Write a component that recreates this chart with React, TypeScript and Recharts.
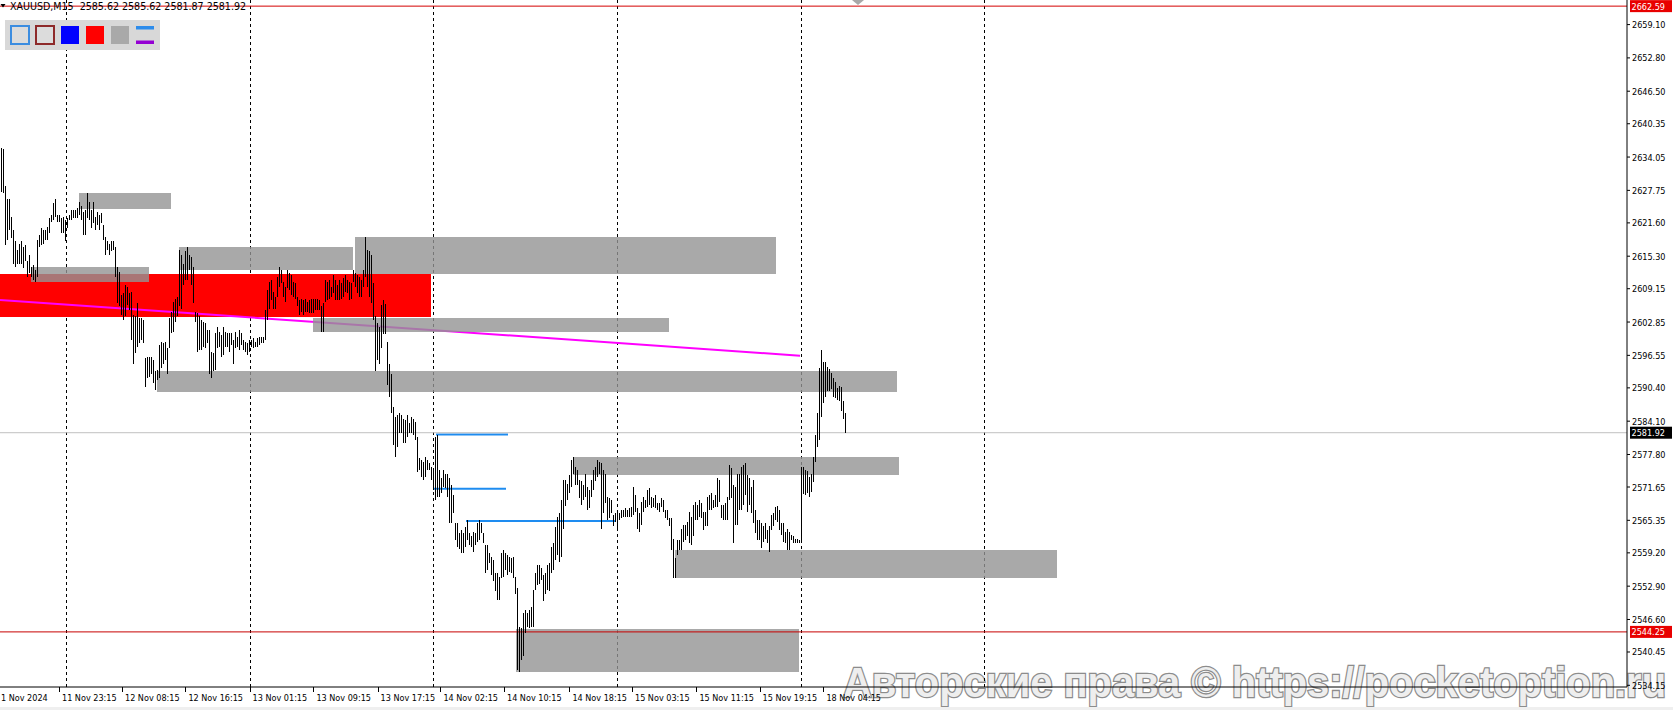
import React from 'react';
import { ComposedChart, Bar, XAxis, YAxis, ReferenceArea, ReferenceLine } from 'recharts';

const FONT = '"DejaVu Sans Condensed", "DejaVu Sans", sans-serif';

// ---- chart data (XAUUSD M15), bar index i = M15 bar number from the left edge ----
const FIRST_BAR = 1;

const barHigh: number[] = [
  2635.7, 2635.6, 2628.5, 2626.2, 2626.2, 2622.8, 2620.3, 2618.1, 2616.5, 2617.7,
  2618.1, 2617.1, 2617.4, 2614.3, 2615.5, 2613.3, 2613.6, 2612.7, 2618.4, 2619.3,
  2620.6, 2620.3, 2620.3, 2620.9, 2622.5, 2623.1, 2625.3, 2626.2, 2623.1, 2623.1,
  2622.5, 2622.8, 2622.2, 2622.5, 2623.1, 2624.0, 2624.0, 2624.0, 2624.4, 2625.6,
  2624.7, 2623.7, 2624.0, 2627.2, 2625.6, 2624.0, 2625.6, 2622.8, 2623.7, 2623.1,
  2623.4, 2621.2, 2619.0, 2618.1, 2617.7, 2618.1, 2618.1, 2617.1, 2613.3, 2612.4,
  2608.0, 2608.3, 2609.9, 2609.5, 2608.3, 2608.6, 2604.2, 2603.9, 2606.4, 2603.6,
  2603.6, 2603.2, 2596.0, 2596.3, 2596.3, 2596.3, 2595.7, 2593.5, 2593.8, 2598.5,
  2599.1, 2598.8, 2599.1, 2597.9, 2603.6, 2604.8, 2606.7, 2607.3, 2607.6, 2616.5,
  2615.5, 2613.9, 2616.2, 2617.1, 2615.5, 2615.2, 2613.3, 2604.8, 2604.5, 2603.9,
  2603.2, 2602.9, 2602.6, 2601.3, 2601.3,
  2597.2, 2596.9, 2600.7, 2602.0, 2601.0, 2600.4, 2602.0, 2601.0, 2600.7, 2600.7,
  2600.7, 2599.5, 2601.0, 2600.1, 2601.3, 2600.7, 2599.5, 2599.1, 2598.8, 2599.5,
  2599.5, 2599.8, 2599.1, 2599.8, 2600.1, 2600.1, 2600.1, 2605.1, 2608.9, 2610.5,
  2610.8, 2608.6, 2607.6, 2611.4, 2613.3, 2612.7, 2610.5, 2609.5, 2612.7, 2612.1,
  2611.7, 2610.5, 2610.2, 2607.6, 2607.0, 2607.3, 2607.0, 2607.3, 2606.7, 2607.0,
  2607.3, 2607.3, 2607.3, 2607.3, 2607.0, 2605.8, 2606.4, 2610.8, 2610.5, 2610.8,
  2609.5, 2611.7, 2610.8, 2609.9, 2610.8, 2610.2, 2611.1, 2611.7, 2610.8, 2610.5,
  2610.2, 2612.7, 2612.1, 2611.7, 2611.4, 2610.8,
  2612.7, 2619.0, 2616.5, 2616.2, 2615.5, 2610.2, 2603.9, 2602.6, 2602.0,
  2606.0, 2607.0, 2606.2, 2599.0, 2595.0,
  2593.1, 2586.8, 2584.9, 2585.3, 2585.6, 2585.3, 2584.6, 2584.3, 2585.3, 2583.7,
  2584.9, 2584.6, 2584.0, 2581.2, 2577.1, 2576.8, 2576.4, 2577.4, 2576.8, 2576.1,
  2575.5, 2574.9, 2581.2, 2581.5, 2574.9, 2573.3, 2574.9, 2574.2, 2574.2, 2573.3,
  2572.0, 2570.1, 2564.8, 2564.8, 2562.9, 2563.5, 2562.9, 2564.1, 2565.4, 2562.9,
  2562.3, 2563.2, 2562.9, 2564.8, 2565.4, 2564.8, 2562.9, 2560.7, 2560.7, 2559.1,
  2558.5, 2557.8, 2555.3, 2555.3, 2554.7, 2559.1, 2559.7, 2559.1, 2558.8, 2558.5,
  2558.2, 2558.5, 2554.7, 2552.5, 2545.2, 2544.9, 2547.8, 2548.4, 2547.8, 2548.4,
  2549.0, 2552.2, 2555.3, 2556.9, 2556.9, 2556.3, 2555.0, 2555.3, 2556.9, 2557.2,
  2560.4, 2561.0, 2564.1, 2566.0, 2566.7, 2569.2, 2573.0, 2573.0, 2572.3, 2573.9,
  2576.8, 2577.4, 2575.5, 2574.9, 2573.0, 2572.7, 2572.0, 2574.2, 2571.7, 2571.1,
  2573.0, 2574.9, 2575.5, 2576.8, 2576.4, 2576.1, 2574.9, 2574.2, 2569.8,
  2569.5, 2569.2, 2566.4, 2566.7, 2567.0, 2566.7, 2567.3, 2567.3, 2567.6, 2567.3,
  2567.6, 2567.9, 2571.7, 2570.1, 2567.6, 2566.7, 2568.9, 2569.8, 2569.2, 2571.1,
  2571.4, 2569.8, 2569.5, 2570.1, 2568.6, 2568.6, 2569.5, 2569.2, 2567.3, 2567.3,
  2565.7, 2565.7, 2561.9, 2558.2, 2561.6, 2561.6, 2563.8, 2564.5, 2564.5, 2565.1,
  2567.0, 2566.0, 2568.3, 2568.9, 2568.3, 2569.2, 2568.6, 2567.0, 2567.0, 2569.8,
  2570.1, 2570.5, 2569.2, 2570.1, 2573.3, 2573.0, 2568.3, 2568.3, 2568.6, 2569.8,
  2575.8, 2575.2, 2572.0, 2571.7, 2574.2, 2574.2, 2575.5, 2575.8, 2576.1, 2573.9,
  2573.3, 2571.7, 2573.0, 2567.3, 2565.4, 2565.4, 2564.8, 2564.2, 2564.8, 2563.5,
  2564.2, 2566.4, 2566.7, 2567.9, 2568.1, 2567.3, 2564.8, 2564.8, 2563.2, 2563.8,
  2563.2, 2562.6, 2562.3, 2561.9, 2561.9, 2561.6,
  2575.5, 2575.5, 2574.9, 2574.6, 2573.6, 2574.2, 2577.4, 2581.5, 2585.6, 2594.1, 2597.6,
  2595.2, 2595.2, 2594.4, 2594.0, 2593.3, 2592.3, 2591.5, 2590.3, 2590.8, 2590.5, 2588.0, 2585.62,
];

const barLow: number[] = [
  2627.5, 2627.2, 2617.4, 2618.4, 2620.3, 2618.7, 2613.9, 2613.3, 2613.9, 2613.9,
  2613.9, 2613.0, 2614.3, 2611.4, 2612.1, 2611.4, 2610.8, 2610.5, 2611.4, 2617.1,
  2617.4, 2617.7, 2618.4, 2618.4, 2619.6, 2621.8, 2622.2, 2622.8, 2621.8, 2621.8,
  2619.6, 2619.6, 2618.1, 2620.6, 2622.2, 2622.2, 2622.5, 2622.5, 2622.5, 2623.1,
  2622.2, 2619.3, 2619.3, 2622.5, 2622.2, 2620.6, 2621.5, 2620.3, 2621.2, 2620.3,
  2621.5, 2618.4, 2615.5, 2616.5, 2615.5, 2616.2, 2616.5, 2611.4, 2606.4, 2605.8,
  2604.2, 2603.2, 2603.9, 2606.1, 2605.1, 2599.5, 2595.0, 2596.9, 2598.2, 2598.8,
  2599.5, 2598.8, 2590.6, 2592.2, 2592.5, 2593.1, 2591.3, 2590.0, 2591.9, 2592.2,
  2594.1, 2595.0, 2595.7, 2593.1, 2597.9, 2600.7, 2601.0, 2602.9, 2603.9, 2605.8,
  2605.4, 2609.9, 2610.8, 2610.8, 2612.7, 2609.9, 2606.4, 2602.9, 2597.2, 2597.6,
  2597.6, 2598.2, 2597.9, 2598.8, 2593.1,
  2592.3, 2593.5, 2593.8, 2597.9, 2598.2, 2596.3, 2596.6, 2598.2, 2598.2, 2597.2,
  2598.5, 2595.0, 2597.9, 2598.2, 2597.6, 2598.5, 2597.6, 2597.2, 2596.6, 2597.2,
  2598.2, 2597.9, 2598.2, 2598.2, 2598.5, 2598.8, 2598.8, 2599.5, 2603.2, 2605.4,
  2607.0, 2605.4, 2605.4, 2607.6, 2609.5, 2610.2, 2607.6, 2606.7, 2609.2, 2608.9,
  2608.0, 2607.6, 2607.3, 2605.8, 2604.2, 2604.8, 2604.2, 2604.8, 2604.8, 2604.5,
  2604.5, 2604.5, 2605.1, 2605.1, 2605.1, 2601.0, 2601.0, 2606.7, 2607.0, 2607.3,
  2607.6, 2608.3, 2607.0, 2607.0, 2607.0, 2607.3, 2607.6, 2608.6, 2608.3, 2607.0,
  2607.3, 2610.5, 2609.5, 2608.3, 2607.6, 2607.6,
  2609.5, 2611.4, 2609.5, 2607.6, 2606.4, 2603.2, 2593.5, 2595.7, 2595.0,
  2598.0, 2600.5, 2600.5, 2591.0, 2588.7,
  2585.6, 2579.6, 2577.4, 2579.3, 2581.8, 2581.8, 2579.9, 2579.9, 2581.2, 2581.8,
  2581.8, 2581.5, 2580.5, 2574.5, 2574.9, 2573.6, 2573.0, 2573.6, 2574.9, 2574.9,
  2573.0, 2571.1, 2569.2, 2569.8, 2569.8, 2570.5, 2571.7, 2571.4, 2569.8, 2564.8,
  2564.8, 2566.7, 2561.6, 2560.4, 2560.0, 2559.1, 2559.1, 2560.4, 2561.6, 2560.7,
  2560.4, 2559.4, 2560.7, 2561.3, 2561.6, 2562.9, 2561.0, 2555.3, 2556.0, 2557.2,
  2555.0, 2553.8, 2551.9, 2550.3, 2550.3, 2554.4, 2554.7, 2556.0, 2555.0, 2555.6,
  2555.3, 2554.4, 2551.5, 2537.0, 2536.7, 2538.9, 2539.6, 2544.0, 2545.2, 2544.9,
  2545.2, 2545.2, 2552.2, 2553.1, 2553.4, 2554.1, 2550.0, 2551.5, 2552.2, 2551.9,
  2555.3, 2556.0, 2557.8, 2558.8, 2557.5, 2558.5, 2563.8, 2568.0, 2569.2, 2570.5,
  2571.7, 2574.2, 2572.0, 2572.0, 2569.5, 2568.2, 2569.2, 2569.8, 2567.3, 2567.6,
  2569.8, 2571.1, 2572.7, 2573.6, 2574.2, 2563.8, 2566.7, 2568.6, 2565.4,
  2565.7, 2566.7, 2564.2, 2565.1, 2563.8, 2565.4, 2565.7, 2566.0, 2566.0, 2566.0,
  2566.0, 2566.0, 2566.4, 2567.0, 2563.8, 2563.2, 2564.5, 2567.0, 2567.6, 2567.9,
  2568.2, 2567.6, 2567.9, 2567.6, 2567.3, 2567.0, 2567.9, 2567.0, 2565.7, 2565.4,
  2564.2, 2559.7, 2554.4, 2554.4, 2558.8, 2559.7, 2559.7, 2561.3, 2561.6, 2562.3,
  2561.0, 2560.7, 2562.3, 2565.4, 2565.4, 2566.0, 2565.7, 2563.5, 2564.2, 2564.2,
  2567.3, 2567.3, 2567.6, 2567.9, 2567.9, 2568.9, 2565.7, 2565.4, 2565.4, 2565.4,
  2569.2, 2569.5, 2561.0, 2564.5, 2564.5, 2567.3, 2567.3, 2568.2, 2570.1, 2567.0,
  2568.2, 2566.7, 2564.8, 2562.9, 2561.6, 2561.6, 2560.1, 2561.3, 2561.9, 2561.0,
  2559.4, 2563.5, 2564.2, 2565.4, 2565.1, 2563.5, 2562.6, 2561.3, 2561.0, 2559.7,
  2559.7, 2561.6, 2561.0, 2561.0, 2561.0, 2561.0,
  2561.3, 2570.3, 2570.1, 2570.5, 2569.8, 2570.8, 2572.6, 2576.4, 2579.3, 2580.5, 2584.9,
  2587.5, 2588.7, 2589.8, 2589.8, 2590.1, 2588.7, 2588.4, 2588.1, 2587.9, 2586.0, 2584.5, 2581.87,
];

// time axis (bar index units) and labels
const timeTicks = [0, 29.5, 61, 92.7, 124.8, 156.7, 188.8, 220.2, 252, 284.7, 316, 348.2, 379.8, 411.7];
const timeLabels = [
  '1 Nov 2024', '11 Nov 23:15', '12 Nov 08:15', '12 Nov 16:15', '13 Nov 01:15', '13 Nov 09:15',
  '13 Nov 17:15', '14 Nov 02:15', '14 Nov 10:15', '14 Nov 18:15', '15 Nov 03:15', '15 Nov 11:15',
  '15 Nov 19:15', '18 Nov 04:15',
];
const timeDomain = [0, 813.5];

const priceTicks = [
  2659.10, 2652.80, 2646.50, 2640.35, 2634.05, 2627.75, 2621.60, 2615.30, 2609.15, 2602.85,
  2596.55, 2590.40, 2584.10, 2577.80, 2571.65, 2565.35, 2559.20, 2552.90, 2546.60, 2540.45, 2534.15,
];
const priceDomain = [2533.83, 2663.75];

const daySeparators = [33.25, 125.25, 216.75, 308.75, 400.75, 492.25];

const grayZones = [
  { from: 39.5, to: 85.5, top: 2627.25, bottom: 2624.23 },
  { from: 15.5, to: 74.5, top: 2613.26, bottom: 2610.42 },
  { from: 89.5, to: 176.5, top: 2617.04, bottom: 2612.69 },
  { from: 177.5, to: 388, top: 2618.93, bottom: 2611.93 },
  { from: 156.5, to: 334.5, top: 2603.62, bottom: 2600.97 },
  { from: 78.5, to: 448.5, top: 2593.59, bottom: 2589.62 },
  { from: 286.5, to: 449.5, top: 2577.33, bottom: 2573.93 },
  { from: 337.5, to: 528.5, top: 2559.74, bottom: 2554.45 },
  { from: 258, to: 399.5, top: 2544.8, bottom: 2536.67 },
];
const redZone = { from: 0, to: 215.5, top: 2611.93, bottom: 2603.8 };
const trendLine = { from: 0, to: 400, start: 2607.02, end: 2596.48 };
const blueLevels = [
  { from: 218, to: 254, price: 2581.6 },
  { from: 217, to: 253, price: 2571.33 },
  { from: 233, to: 307.5, price: 2565.23 },
];
const priceLines = [
  { price: 2662.59, color: '#D40000', tag: '#E80000', text: '2662.59' },
  { price: 2581.92, color: '#C0C0C0', tag: '#000000', text: '2581.92' },
  { price: 2544.25, color: '#C80000', tag: '#E80000', text: '2544.25' },
];

const titleText = 'XAUUSD,M15  2585.62 2585.62 2581.87 2581.92';
const watermark = 'Авторские права © https://pocketoption.ru';

const data = barHigh.map((h, k) => ({ i: k + FIRST_BAR, range: [barLow[k], h] }));

const XTick = (props: any) => {
  const { x, y, payload } = props;
  const idx = timeTicks.indexOf(payload.value);
  const label = timeLabels[idx] ?? '';
  const first = idx === 0;
  return (
    <g>
      {!first && (
        <line x1={x + 0.5} x2={x + 0.5} y1={y} y2={y + 5} stroke="#000" shapeRendering="crispEdges" />
      )}
      <text x={first ? x + 1 : x + 3} y={y + 14} fontSize={9} fontFamily={FONT} fill="#000" textAnchor="start">
        {label}
      </text>
    </g>
  );
};

const YTick = (props: any) => {
  const { x, y, payload } = props;
  return (
    <text x={x} y={y + 3.5} fontSize={9} fontFamily={FONT} fill="#000" textAnchor="start">
      {Number(payload.value).toFixed(2)}
    </text>
  );
};

const makeTag = (text: string, bg: string) => (props: any) => {
  const vb = props.viewBox || {};
  const x = (vb.x ?? 0) + (vb.width ?? 0) + 3;
  const y = vb.y ?? 0;
  return (
    <g>
      <rect x={x} y={y - 6} width={42} height={12} fill={bg} />
      <text x={x + 1.5} y={y + 3.5} fill="#fff" fontSize={9} fontFamily={FONT}>
        {text}
      </text>
    </g>
  );
};

export default function App() {
  return (
    <div
      style={{
        position: 'absolute',
        left: 0,
        top: 0,
        width: 1673,
        height: 710,
        background: '#fff',
        overflow: 'hidden',
        fontFamily: FONT,
      }}
    >
      <svg
        width={1673}
        height={710}
        style={{ position: 'absolute', left: 0, top: 0, pointerEvents: 'none' }}
      >
        <text
          x={843}
          y={697}
          fontFamily='"Liberation Sans", Arial, sans-serif'
          fontWeight="bold"
          fontSize={43}
          textLength={823}
          lengthAdjust="spacingAndGlyphs"
          fill="#EEEEEE"
          stroke="#8C8C8C"
          strokeWidth={2.6}
          paintOrder="stroke"
        >
          {watermark}
        </text>
      </svg>
      <div style={{ position: 'absolute', left: 0, top: 0 }}>
        <ComposedChart
          width={1673}
          height={710}
          data={data}
          margin={{ top: 0, right: 0, bottom: 0, left: 0 }}
          style={{ fontFamily: FONT }}
        >
          <XAxis
            type="number"
            dataKey="i"
            domain={timeDomain}
            allowDataOverflow
            ticks={timeTicks}
            interval={0}
            tick={<XTick />}
            tickLine={false}
            tickSize={0}
            tickMargin={0}
            axisLine={{ stroke: '#000' }}
            height={23}
          />
          <YAxis
            orientation="right"
            type="number"
            domain={priceDomain}
            allowDataOverflow
            ticks={priceTicks}
            interval={0}
            tick={<YTick />}
            tickSize={3}
            tickMargin={2}
            tickLine={{ stroke: '#000' }}
            axisLine={{ stroke: '#000' }}
            width={46}
          />
          {daySeparators.map((d, k) => (
            <ReferenceLine
              key={'sep' + k}
              x={d}
              stroke="#000"
              strokeDasharray="3 3"
              strokeWidth={1}
              zIndex={50}
            />
          ))}
          <ReferenceArea
            x1={redZone.from}
            x2={redZone.to}
            y1={redZone.bottom}
            y2={redZone.top}
            fill="#FF0000"
            fillOpacity={1}
            stroke="none"
            zIndex={60}
          />
          <ReferenceLine
            segment={[
              { x: trendLine.from, y: trendLine.start },
              { x: trendLine.to, y: trendLine.end },
            ]}
            stroke="#FF00FF"
            strokeWidth={2}
            zIndex={70}
          />
          {grayZones.map((z, k) => (
            <ReferenceArea
              key={'gz' + k}
              x1={z.from}
              x2={z.to}
              y1={z.bottom}
              y2={z.top}
              fill="#949494"
              fillOpacity={0.8}
              stroke="none"
              zIndex={80}
            />
          ))}
          {blueLevels.map((b, k) => (
            <ReferenceLine
              key={'bl' + k}
              segment={[
                { x: b.from, y: b.price },
                { x: b.to, y: b.price },
              ]}
              stroke="#1E8CF0"
              strokeWidth={2}
              zIndex={90}
            />
          ))}
          {priceLines.map((p, k) => (
            <ReferenceLine
              key={'pl' + k}
              y={p.price}
              stroke={p.color}
              strokeWidth={1}
              zIndex={95}
              label={makeTag(p.text, p.tag)}
            />
          ))}
          <Bar
            dataKey="range"
            barSize={1}
            fill="#000"
            isAnimationActive={false}
            shapeRendering="crispEdges"
            zIndex={300}
          />
        </ComposedChart>
      </div>
      <svg
        width={1673}
        height={710}
        style={{ position: 'absolute', left: 0, top: 0, pointerEvents: 'none' }}
      >
        <path d="M0.5,4 L5.5,4 L3,7.5 Z" fill="#000" />
        <text
          x={10}
          y={10}
          fontSize={10}
          fontFamily={FONT}
          fill="#000"
          textLength={236}
          lengthAdjust="spacingAndGlyphs"
          style={{ whiteSpace: 'pre' }}
        >
          {titleText}
        </text>
        <path d="M852,0 L864,0 L858,5 Z" fill="#A8A8A8" />
        <rect x={5} y={20} width={155} height={30} fill="#D8D8D8" />
        <rect x={11} y={26} width={18} height={18} fill="#DCDCDC" stroke="#3C8DE0" strokeWidth={2} />
        <rect x={36} y={26} width={18} height={18} fill="#DCDCDC" stroke="#8E2A2A" strokeWidth={2} />
        <rect x={61} y={26} width={18} height={18} fill="#0000FF" />
        <rect x={86} y={26} width={18} height={18} fill="#FF0000" />
        <rect x={111} y={26} width={18} height={18} fill="#A9A9A9" />
        <rect x={136} y={26} width={18} height={3.5} fill="#2D8CEB" />
        <rect x={136} y={40.5} width={18} height={3.5} fill="#9400D3" />
        <rect x={0} y={707} width={1673} height={3} fill="#EFEFEF" />
      </svg>
    </div>
  );
}
